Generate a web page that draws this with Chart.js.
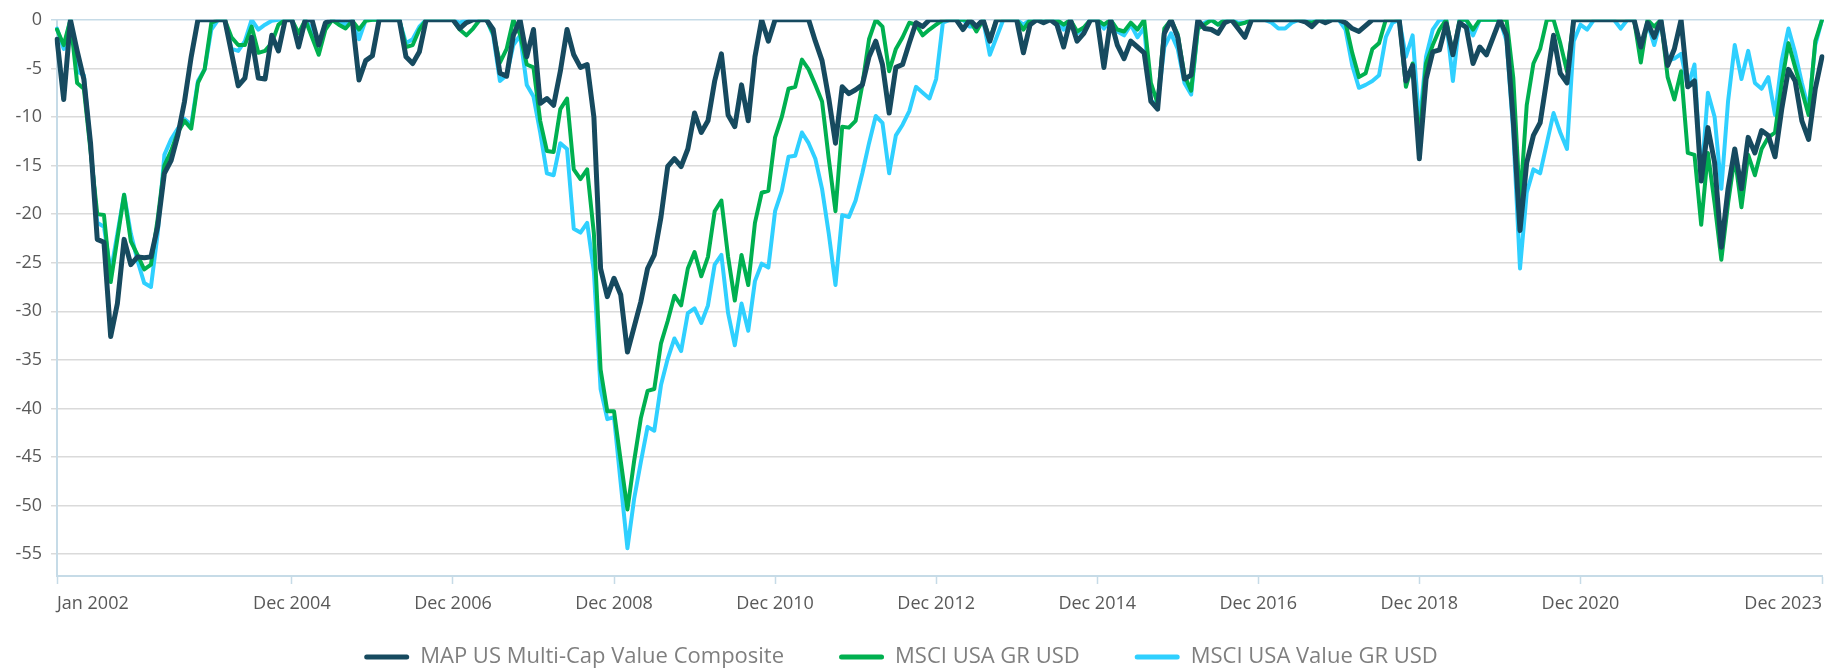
<!DOCTYPE html>
<html>
<head>
<meta charset="utf-8">
<script src="https://cdn.jsdelivr.net/npm/chart.js@4.4.1/dist/chart.umd.min.js"></script>
<style>
  html, body { margin: 0; padding: 0; background: #ffffff; }
  #wrap { width: 1835px; height: 669px; position: relative; }
</style>
</head>
<body>
<div id="wrap"><canvas id="myChart"></canvas></div>
<script>
// Drawdown in %, monatlich Jan 2002 - Dec 2023 (eine Zeile = ein Jahr)
var map_composite = [
  -2.0, -8.2, 0, -3.2, -6.1, -12.7, -22.6, -22.9, -32.6, -29.2, -22.6, -25.2,
  -24.4, -24.5, -24.4, -21.3, -15.8, -14.5, -11.9, -8.4, -3.8, 0, 0, 0,
  0, 0, -3.4, -6.8, -6.0, -1.8, -6.0, -6.1, -1.6, -3.2, 0, 0,
  -2.8, 0, 0, -2.6, -0.3, 0, 0, 0, 0, -6.2, -4.2, -3.7,
  0, 0, 0, 0, -3.8, -4.5, -3.3, 0, 0, 0, 0, 0,
  -0.9, -0.3, 0, 0, 0, -1.0, -5.5, -5.8, -1.6, 0, -3.8, -1.0,
  -8.6, -8.1, -8.8, -5.3, -1.0, -3.6, -4.9, -4.6, -10.0, -25.6, -28.5, -26.6,
  -28.3, -34.2, -31.6, -29.0, -25.6, -24.2, -20.3, -15.1, -14.3, -15.1, -13.3, -9.6,
  -11.6, -10.4, -6.3, -3.5, -9.8, -11.0, -6.7, -10.4, -3.8, 0, -2.2, 0,
  0, 0, 0, 0, 0, -2.2, -4.2, -8.1, -12.7, -6.9, -7.6, -7.2,
  -6.7, -3.8, -2.2, -4.6, -9.6, -4.9, -4.6, -2.4, -0.3, -0.7, 0, 0,
  0, 0, 0, -1.0, 0, -0.7, 0, -2.2, 0, 0, 0, 0,
  -3.4, -0.5, 0, -0.3, 0, -0.5, -2.8, 0, -2.2, -1.4, 0, 0,
  -4.9, 0, -2.6, -4.0, -2.2, -2.8, -3.4, -8.4, -9.2, -1.4, 0, -1.8,
  -6.1, -5.7, 0, -0.9, -1.0, -1.4, -0.3, 0, -0.9, -1.8, 0, 0,
  0, 0, 0, 0, 0, 0, -0.2, -0.7, 0, -0.3, 0, 0,
  -0.3, -0.9, -1.2, -0.6, 0, 0, 0, 0, 0, -6.3, -4.7, -14.3,
  -6.1, -3.3, -3.1, -0.4, -3.6, -0.3, -0.8, -4.5, -2.8, -3.6, -1.8, 0,
  -1.6, -10.4, -21.7, -14.7, -11.9, -10.6, -6.1, -1.6, -5.5, -6.5, 0, 0,
  0, 0, 0, 0, 0, 0, 0, 0, -2.8, -0.3, -1.8, 0,
  -4.7, -3.0, 0, -6.9, -6.3, -16.6, -11.1, -14.7, -23.4, -17.4, -13.3, -17.4,
  -12.1, -13.7, -11.4, -11.9, -14.1, -9.2, -5.1, -6.3, -10.4, -12.3, -7.1, -3.8
];

var msci_usa = [
  -1.0, -2.6, 0, -6.5, -7.1, -13.5, -20.0, -20.1, -27.0, -22.5, -18.0, -22.8,
  -24.2, -25.7, -25.2, -20.5, -15.0, -13.5, -11.6, -10.4, -11.2, -6.5, -5.1, -0.3,
  0, 0, -1.8, -2.6, -2.6, -0.7, -3.4, -3.2, -2.4, -0.5, 0, 0,
  -1.4, 0, -1.8, -3.6, -1.0, 0, -0.5, -0.9, -0.1, -1.0, -0.1, 0,
  0, 0, 0, 0, -2.8, -2.6, -1.0, 0, 0, 0, 0, 0,
  -1.0, -1.6, -0.9, 0, 0, -1.4, -4.4, -3.0, 0, -1.5, -4.6, -4.9,
  -10.4, -13.5, -13.6, -9.2, -8.1, -15.4, -16.4, -15.4, -22.0, -36.0, -40.3, -40.3,
  -45.4, -50.4, -45.4, -41.0, -38.2, -38.0, -33.3, -31.0, -28.4, -29.4, -25.6, -23.9,
  -26.4, -24.4, -19.7, -18.6, -24.4, -28.9, -24.2, -27.3, -20.9, -17.8, -17.6, -12.1,
  -10.0, -7.1, -6.9, -4.1, -5.1, -6.7, -8.4, -14.3, -19.7, -11.0, -11.1, -10.4,
  -6.7, -2.0, 0, -0.7, -5.3, -3.0, -1.8, -0.3, -0.5, -1.6, -1.0, -0.5,
  0, 0, 0, 0, 0, -1.2, 0, -2.0, 0, 0, 0, 0,
  -1.0, 0, 0, 0, 0, 0, -0.5, 0, -1.2, -0.8, 0, 0,
  -0.5, 0, -1.0, -1.2, -0.3, -1.0, 0, -6.5, -8.6, -0.9, 0, -1.5,
  -5.7, -7.3, -0.9, -0.5, 0, -0.5, 0, 0, -0.5, -0.3, 0, 0,
  0, 0, 0, 0, 0, 0, -0.2, -0.3, 0, 0, 0, 0,
  -0.3, -3.4, -5.9, -5.5, -3.0, -2.4, 0, 0, 0, -6.9, -4.5, -12.5,
  -4.5, -2.6, -1.0, 0, -3.6, 0, 0, -1.0, 0, 0, 0, 0,
  0, -6.0, -19.0, -8.8, -4.5, -3.0, 0, 0, -2.4, -5.3, 0, 0,
  0, 0, 0, 0, 0, 0, 0, 0, -4.4, 0, -0.7, 0,
  -5.9, -8.2, -5.3, -13.7, -13.9, -21.1, -13.7, -18.9, -24.7, -18.9, -14.1, -19.3,
  -13.9, -16.0, -13.3, -12.1, -11.6, -6.5, -2.4, -4.9, -7.3, -9.8, -2.2, 0
];

var msci_usa_value = [
  -0.9, -3.0, 0, -5.3, -5.7, -13.0, -20.9, -21.3, -26.0, -22.0, -18.0, -22.0,
  -24.8, -27.1, -27.5, -22.0, -13.9, -12.3, -11.2, -10.2, -10.8, -6.3, -5.1, -1.0,
  0, 0, -3.0, -3.2, -2.2, 0, -1.0, -0.5, -0.1, 0, 0, 0,
  -2.6, 0, -1.0, -2.6, -0.7, 0, -0.1, -0.5, 0, -2.0, 0, 0,
  0, 0, 0, 0, -2.4, -2.0, -0.7, 0, 0, 0, 0, 0,
  -0.3, 0, 0, 0, 0, -1.6, -6.3, -5.7, -2.6, -1.6, -6.7, -7.9,
  -11.6, -15.8, -16.0, -12.7, -13.3, -21.5, -21.9, -20.9, -25.9, -38.0, -41.1, -40.9,
  -47.7, -54.4, -49.3, -45.5, -41.9, -42.3, -37.6, -34.9, -32.8, -34.1, -30.2, -29.7,
  -31.2, -29.4, -25.2, -24.2, -30.2, -33.5, -29.2, -32.0, -26.9, -25.1, -25.5, -19.7,
  -17.6, -14.1, -14.0, -11.6, -12.7, -14.3, -17.4, -22.0, -27.3, -20.1, -20.3, -18.6,
  -15.8, -12.7, -9.9, -10.6, -15.8, -11.9, -10.8, -9.4, -6.9, -7.5, -8.1, -6.1,
  -0.3, 0, 0, 0, -0.7, -0.7, 0, -3.6, -1.8, 0, 0, 0,
  -0.5, 0, 0, 0, 0, 0, -1.0, 0, -1.4, -0.9, 0, 0,
  -0.9, 0, -1.2, -1.6, -0.5, -1.8, -0.8, -8.4, -8.6, -2.8, -1.4, -3.0,
  -6.5, -7.7, -0.9, -0.3, 0, -0.5, 0, 0, -0.3, -0.3, 0, 0,
  0, -0.3, -0.9, -0.9, -0.3, 0, 0, 0, 0, 0, 0, 0,
  -1.0, -4.7, -7.0, -6.7, -6.3, -5.7, -1.8, -0.3, 0, -3.8, -1.6, -10.8,
  -3.8, -1.0, 0, 0, -6.3, 0, 0, -1.6, 0, 0, 0, 0,
  -2.2, -11.6, -25.6, -17.8, -15.4, -15.8, -12.7, -9.6, -11.6, -13.3, -2.2, -0.5,
  -1.0, 0, 0, 0, 0, -0.9, 0, 0, -3.2, -0.3, -2.6, 0,
  -4.2, -4.0, -3.5, -6.9, -4.6, -16.6, -7.5, -10.0, -17.4, -8.4, -2.6, -6.1,
  -3.2, -6.5, -7.1, -5.9, -9.8, -4.2, -0.9, -3.4, -6.5, -9.2, -2.6, 0
];

// beschriftete Monate auf der x-Achse
var tick_labels = ['Jan 2002', 'Dec 2004', 'Dec 2006', 'Dec 2008', 'Dec 2010', 'Dec 2012',
                   'Dec 2014', 'Dec 2016', 'Dec 2018', 'Dec 2020', 'Dec 2023'];

var monatsnamen = ['Jan', 'Feb', 'Mar', 'Apr', 'May', 'Jun', 'Jul', 'Aug', 'Sep', 'Oct', 'Nov', 'Dec'];
var monate = [];
for (var jahr = 2002; jahr <= 2023; jahr++) {
    for (var m = 0; m < 12; m++) {
        monate.push(monatsnamen[m] + ' ' + jahr);
    }
}

var farbe_map = '#164a5f';
var farbe_usa = '#00b050';
var farbe_value = '#2fd0ff';
var achsen_blau = '#c6dbe7';

Chart.defaults.font.family = "'Open Sans', sans-serif";

// die x-Achse ist bewusst flach (Legende braucht den Platz),
// damit die Beschriftung nicht abgeschnitten wird, Clip-Bereich nach unten erweitern.
// Legende etwas nach links schieben wie im Original
var layout_korrektur = {
    id: 'layout_korrektur',
    afterLayout: function (chart) {
        chart.scales.x.bottom = chart.height;
        chart.legend.left = chart.legend.left - 20;
    }
};

function erstellung_diagramm() {
    new Chart('myChart', {
        type: 'line',
        data: {
            labels: monate,
            datasets: [{
                label: 'MAP US Multi-Cap Value Composite',
                data: map_composite,
                borderColor: farbe_map,
                backgroundColor: farbe_map,
                borderWidth: 5
            }, {
                label: 'MSCI USA GR USD',
                data: msci_usa,
                borderColor: farbe_usa,
                backgroundColor: farbe_usa,
                borderWidth: 4
            }, {
                label: 'MSCI USA Value GR USD',
                data: msci_usa_value,
                borderColor: farbe_value,
                backgroundColor: farbe_value,
                borderWidth: 4
            }]
        },
        plugins: [layout_korrektur],
        options: {
            responsive: true,
            maintainAspectRatio: false,
            animation: false,
            layout: { padding: { left: 0, right: 13, top: 14, bottom: -9 } },
            elements: {
                point: { radius: 0, hoverRadius: 0 },
                line: { tension: 0, borderJoinStyle: 'round', borderCapStyle: 'round' }
            },
            plugins: {
                tooltip: { enabled: false },
                legend: {
                    position: 'bottom',
                    labels: {
                        boxWidth: 45,
                        boxHeight: 5,
                        padding: 55,
                        useBorderRadius: true,
                        borderRadius: 2.5,
                        color: '#7f7f7f',
                        font: { size: 22 },
                        generateLabels: function (chart) {
                            var items = Chart.defaults.plugins.legend.labels.generateLabels(chart);
                            items.forEach(function (it) { it.lineWidth = 0; });
                            return items;
                        }
                    }
                }
            },
            scales: {
                x: {
                    ticks: {
                        autoSkip: false,
                        maxRotation: 0,
                        align: 'inner',
                        color: '#595959',
                        font: { size: 18 },
                        padding: 9
                    },
                    grid: { drawOnChartArea: false, tickLength: 8, tickColor: achsen_blau, tickWidth: 1.5 },
                    border: { color: achsen_blau, width: 2 },
                    afterBuildTicks: function (scale) {
                        scale.ticks = scale.ticks.filter(function (t) {
                            return tick_labels.indexOf(monate[t.value]) >= 0;
                        });
                    },
                    afterFit: function (scale) { scale.height = 15; }
                },
                y: {
                    min: -57.25,
                    max: 0,
                    ticks: {
                        stepSize: 5,
                        includeBounds: false,
                        color: '#595959',
                        font: { size: 18 },
                        padding: 9
                    },
                    grid: {
                        color: function (ctx) {
                            return (ctx.tick && ctx.tick.value === 0) ? achsen_blau : '#dadada';
                        },
                        lineWidth: 1.5,
                        tickLength: 6
                    },
                    border: { color: achsen_blau, width: 2 },
                    afterFit: function (scale) { scale.width = 57; }
                }
            }
        }
    });
}

erstellung_diagramm();
</script>
</body>
</html>
